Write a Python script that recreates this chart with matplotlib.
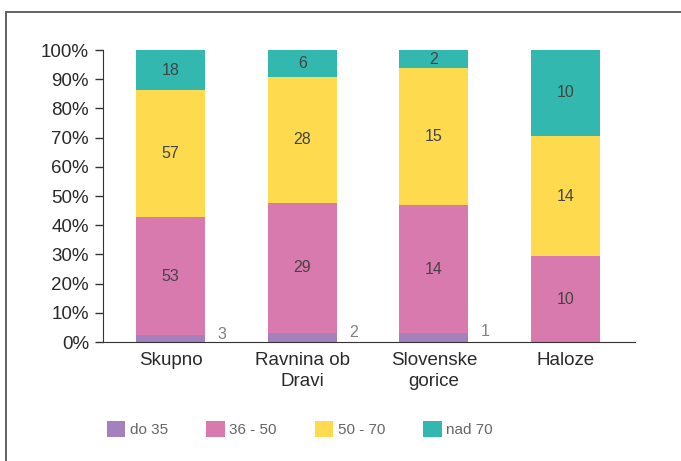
import numpy as np
import matplotlib.pyplot as plt
from matplotlib.patches import Rectangle, Patch

plt.rcParams['font.family'] = ['Liberation Sans', 'DejaVu Sans']

# data
categories = ['Skupno', 'Ravnina ob\nDravi', 'Slovenske\ngorice', 'Haloze']
series_names = ['do 35', '36 - 50', '50 - 70', 'nad 70']
do35 = [3, 2, 1, 0]
s36_50 = [53, 29, 14, 10]
s50_70 = [57, 28, 15, 14]
nad70 = [18, 6, 2, 10]
colors = ['#a481bc', '#d97aaf', '#fedb4e', '#33b8b0']

counts = np.array([do35, s36_50, s50_70, nad70], dtype=float)
shares = counts / counts.sum(axis=0)

fig = plt.figure(figsize=(6.81, 4.61), dpi=100)
ax = fig.add_axes([103/681, 1 - 342/461, (635 - 103)/681, (342 - 50)/461])

x = np.arange(len(categories))
bottom = np.zeros(len(categories))
for i in range(len(series_names)):
    ax.bar(x, shares[i], 0.524, bottom=bottom, color=colors[i], linewidth=0)
    for j in range(len(categories)):
        if counts[i, j] == 0:
            continue
        if i == 0:
            # small segment: label to the right of the bar
            ax.text(x[j] + 0.39, bottom[j] + shares[i, j] + 0.003, '%d' % counts[i, j],
                    ha='center', va='center', fontsize=11.5, color='#808080')
        else:
            ax.text(x[j], bottom[j] + shares[i, j] / 2, '%d' % counts[i, j],
                    ha='center', va='center', fontsize=11.5, color='#444444')
    bottom += shares[i]

ax.set_xlim(-0.5125, 3.527)
ax.set_ylim(0, 1)
ax.set_yticks(np.arange(0, 1.01, 0.1))
ax.set_yticklabels(['%d%%' % v for v in range(0, 101, 10)])
ax.set_xticks(x)
ax.set_xticklabels(categories, linespacing=1.3)

for s in ['top', 'right']:
    ax.spines[s].set_visible(False)
ax.spines['left'].set_color('#333333')
ax.spines['bottom'].set_color('#333333')
ax.tick_params(axis='y', length=6, width=1, color='#333333', labelsize=13.5,
               labelcolor='#2a2a2a', pad=4)
ax.tick_params(axis='x', length=0, labelsize=13.5, labelcolor='#2a2a2a', pad=7)

# legend
handles = [Patch(facecolor=c, edgecolor='none') for c in colors]
leg = fig.legend(handles, series_names, loc='center', bbox_to_anchor=(300/681, 1 - 429/461),
                 ncol=4, frameon=False, fontsize=11, handlelength=1.2, handleheight=1.2,
                 handletextpad=0.3, columnspacing=2.5)
for t in leg.get_texts():
    t.set_color('#666666')

# frame around the figure
fig.patches.append(Rectangle((6/681, -0.1), 1.2, 1.1 - 12/461,
                             transform=fig.transFigure, fill=False,
                             edgecolor='#555555', linewidth=1.3))

fig.savefig('out.png', dpi=100)
